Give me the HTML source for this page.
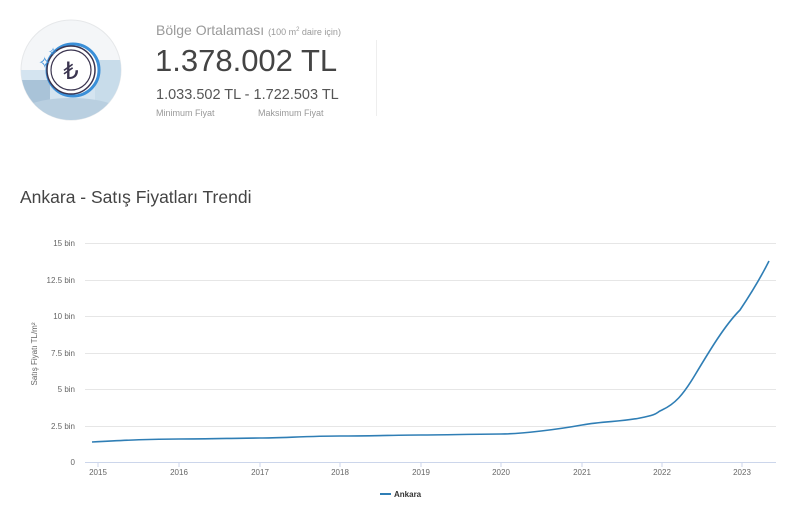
<!DOCTYPE html>
<html><head><meta charset="utf-8"><style>
body{margin:0;width:800px;height:516px;background:#fff;font-family:"Liberation Sans",sans-serif;overflow:hidden;position:relative}
.a{position:absolute;white-space:nowrap}
</style></head><body>
<svg class="a" style="left:0;top:0" width="130" height="130">
<defs><clipPath id="c"><circle cx="71" cy="70" r="50"/></clipPath></defs>
<circle cx="71" cy="70" r="50" fill="#f4f6f8" stroke="#e6e8ea"/>
<g clip-path="url(#c)">
<rect x="20" y="70" width="100" height="60" fill="#d4e4f0"/>
<rect x="95" y="60" width="30" height="70" fill="#c8dcea"/>
<rect x="20" y="80" width="30" height="50" fill="#a9c3d8"/>
<ellipse cx="71" cy="120" rx="60" ry="22" fill="#b9cfe0"/>
</g>
<circle cx="73" cy="70" r="26" fill="#fff" stroke="#3a8fd8" stroke-width="3"/>
<circle cx="71" cy="70" r="24" fill="#fff" stroke="#3b3550" stroke-width="1.5"/>
<circle cx="71" cy="70" r="20" fill="none" stroke="#3b3550" stroke-width="1.2"/>
<text x="71" y="79" text-anchor="middle" font-size="24" fill="#3b3550">₺</text>
<text x="38" y="68" font-size="16" fill="#3a8fd8">✧</text>
<text x="48" y="56" font-size="12" fill="#3a8fd8">✧</text>
</svg>
<div class="a" style="left:156px;top:22px;font-size:14px;color:#9a9a9a">Bölge Ortalaması <span style="font-size:9px">(100 m<sup style="font-size:6px">2</sup> daire için)</span></div>
<div class="a" style="left:155px;top:43px;font-size:31px;color:#444">1.378.002 TL</div>
<div class="a" style="left:156px;top:87px;font-size:14.5px;color:#555">1.033.502 TL - 1.722.503 TL</div>
<div class="a" style="left:156px;top:108px;font-size:9px;color:#999">Minimum Fiyat</div>
<div class="a" style="left:258px;top:108px;font-size:9px;color:#999">Maksimum Fiyat</div>
<div class="a" style="left:376px;top:40px;width:1px;height:76px;background:#eee"></div>
<div class="a" style="left:20px;top:187px;font-size:17.5px;color:#444">Ankara - Satış Fiyatları Trendi</div>
<svg class="a" style="left:0;top:0" width="800" height="516" font-family="Liberation Sans,sans-serif">
<g stroke="#e6e6e6" stroke-width="1">
<line x1="85" x2="776" y1="243.5" y2="243.5"/><line x1="85" x2="776" y1="280.5" y2="280.5"/>
<line x1="85" x2="776" y1="316.5" y2="316.5"/><line x1="85" x2="776" y1="353.5" y2="353.5"/>
<line x1="85" x2="776" y1="389.5" y2="389.5"/><line x1="85" x2="776" y1="426.5" y2="426.5"/>
</g>
<line x1="85" x2="776" y1="462.5" y2="462.5" stroke="#ccd6eb"/>
<g stroke="#ccd6eb"><line x1="98" x2="98" y1="462" y2="467"/><line x1="179" x2="179" y1="462" y2="467"/><line x1="260" x2="260" y1="462" y2="467"/><line x1="340" x2="340" y1="462" y2="467"/><line x1="421" x2="421" y1="462" y2="467"/><line x1="501" x2="501" y1="462" y2="467"/><line x1="582" x2="582" y1="462" y2="467"/><line x1="662" x2="662" y1="462" y2="467"/><line x1="742" x2="742" y1="462" y2="467"/></g>
<g font-size="8" fill="#666" text-anchor="end">
<text x="75" y="246">15 bin</text><text x="75" y="283">12.5 bin</text><text x="75" y="319">10 bin</text><text x="75" y="356">7.5 bin</text><text x="75" y="392">5 bin</text><text x="75" y="429">2.5 bin</text><text x="75" y="465">0</text>
</g>
<g font-size="8" fill="#666" text-anchor="middle">
<text x="98" y="475">2015</text><text x="179" y="475">2016</text><text x="260" y="475">2017</text><text x="340" y="475">2018</text><text x="421" y="475">2019</text><text x="501" y="475">2020</text><text x="582" y="475">2021</text><text x="662" y="475">2022</text><text x="742" y="475">2023</text>
</g>
<text transform="translate(37,354) rotate(-90)" font-size="8" fill="#666" text-anchor="middle">Satış Fiyatı TL/m²</text>
<path d="M92,442 C130,440 150,439 179,439 S240,438 260,438 S310,436 340,436 S400,435 421,435 S480,434 501,434 S560,429 582,425 S620,422 640,418 S655,413 662,410 C675,404 683,395 695,375 C710,350 725,325 740,310 C752,292 762,275 769,261" fill="none" stroke="#2f7eb5" stroke-width="1.6"/>
<line x1="380" x2="391" y1="494" y2="494" stroke="#2f7eb5" stroke-width="2"/>
<text x="394" y="497" font-size="8" font-weight="bold" fill="#333">Ankara</text>
</svg>
</body></html>
